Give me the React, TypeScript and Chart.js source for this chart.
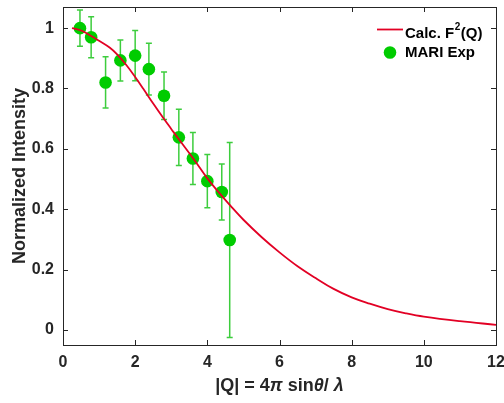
import React, { useEffect, useRef } from "react";
import { Chart, registerables } from "chart.js";

Chart.register(...registerables);

// Calculated magnetic form factor squared
const calcQ = [0.25, 0.5, 0.78, 1.0, 1.3, 1.5, 1.76, 2.0, 2.22, 2.5, 2.78, 3.0, 3.19, 3.61, 4.0, 4.3, 4.65, 5.0, 5.5, 6.0, 6.5, 7.0, 7.5, 8.0, 8.5, 9.0, 9.5, 10.0, 11.0, 12.0];
const calcF2 = [1.0, 0.992, 0.974, 0.958, 0.935, 0.913, 0.877, 0.838, 0.8, 0.75, 0.702, 0.666, 0.635, 0.568, 0.502, 0.458, 0.41, 0.365, 0.308, 0.257, 0.211, 0.172, 0.136, 0.108, 0.087, 0.069, 0.055, 0.044, 0.029, 0.017];

// MARI experimental points
const expQ = [0.47, 0.78, 1.18, 1.59, 2.0, 2.38, 2.8, 3.21, 3.6, 4.0, 4.4, 4.62];
const expI = [1.0, 0.97, 0.82, 0.893, 0.909, 0.864, 0.776, 0.638, 0.568, 0.493, 0.457, 0.298];
const expErr = [0.06, 0.068, 0.085, 0.068, 0.083, 0.086, 0.079, 0.093, 0.086, 0.088, 0.093, 0.323];

const xTicks = [0, 2, 4, 6, 8, 10, 12];
const yTicks = [0, 0.2, 0.4, 0.6, 0.8, 1];
const xRange = [0, 12];
const yRange = [-0.05, 1.07];

const legendLabels = ["Calc. F", "2", "(Q)", "MARI Exp"];
const yTitle = "Normalized Intensity";

const RED = "rgb(226,0,36)";
const GREEN = "rgb(0,204,0)";
const ERR_GREEN = "rgba(40,200,40,0.9)";
const AXIS = "#262626";
const FONT = "'Liberation Sans', Arial, sans-serif";

const customPlugin = {
  id: "custom",
  beforeDatasetsDraw(chart: any) {
    const ctx = chart.ctx;
    const xs = chart.scales.x;
    const ys = chart.scales.y;
    ctx.save();
    ctx.strokeStyle = ERR_GREEN;
    ctx.lineWidth = 1.5;
    for (let i = 0; i < expQ.length; i++) {
      const px = xs.getPixelForValue(expQ[i]);
      const pt = ys.getPixelForValue(expI[i] + expErr[i]);
      const pb = ys.getPixelForValue(expI[i] - expErr[i]);
      ctx.beginPath();
      ctx.moveTo(px, pt);
      ctx.lineTo(px, pb);
      ctx.moveTo(px - 3, pt);
      ctx.lineTo(px + 3, pt);
      ctx.moveTo(px - 3, pb);
      ctx.lineTo(px + 3, pb);
      ctx.stroke();
    }
    ctx.restore();
  },
  afterDraw(chart: any) {
    const ctx = chart.ctx;
    const xs = chart.scales.x;
    const ys = chart.scales.y;
    const a = chart.chartArea;
    ctx.save();
    // box
    ctx.strokeStyle = AXIS;
    ctx.lineWidth = 1;
    ctx.strokeRect(Math.round(a.left) + 0.5, Math.round(a.top) + 0.5, Math.round(a.right - a.left), Math.round(a.bottom - a.top));
    // inward ticks
    const tl = 5;
    ctx.beginPath();
    xTicks.forEach((v) => {
      const px = Math.round(xs.getPixelForValue(v)) + 0.5;
      ctx.moveTo(px, a.bottom);
      ctx.lineTo(px, a.bottom - tl);
      ctx.moveTo(px, a.top);
      ctx.lineTo(px, a.top + tl);
    });
    yTicks.forEach((v) => {
      const py = Math.round(ys.getPixelForValue(v)) + 0.5;
      ctx.moveTo(a.left, py);
      ctx.lineTo(a.left + tl, py);
      ctx.moveTo(a.right, py);
      ctx.lineTo(a.right - tl, py);
    });
    ctx.stroke();

    // legend
    ctx.fillStyle = "#000";
    ctx.textBaseline = "middle";
    ctx.textAlign = "left";
    ctx.strokeStyle = RED;
    ctx.lineWidth = 1.8;
    ctx.beginPath();
    ctx.moveTo(377, 29.5);
    ctx.lineTo(403, 29.5);
    ctx.stroke();
    ctx.font = `bold 15px ${FONT}`;
    let x = 405;
    ctx.fillText(legendLabels[0], x, 34);
    x += ctx.measureText(legendLabels[0]).width;
    ctx.font = `bold 10px ${FONT}`;
    ctx.fillText(legendLabels[1], x + 0.5, 27);
    x += ctx.measureText(legendLabels[1]).width + 1;
    ctx.font = `bold 15px ${FONT}`;
    ctx.fillText(legendLabels[2], x, 34);
    ctx.fillStyle = GREEN;
    ctx.beginPath();
    ctx.arc(390, 52.5, 6.3, 0, Math.PI * 2);
    ctx.fill();
    ctx.fillStyle = "#000";
    ctx.fillText(legendLabels[3], 405, 53);

    // y title
    ctx.fillStyle = AXIS;
    ctx.save();
    ctx.translate(20, (a.top + a.bottom) / 2);
    ctx.rotate(-Math.PI / 2);
    ctx.textAlign = "center";
    ctx.font = `bold 18px ${FONT}`;
    ctx.fillText(yTitle, 0, 0);
    ctx.restore();

    // x title with mixed styles
    const bold = `bold 18px ${FONT}`;
    const ital = `italic bold 18px ${FONT}`;
    const segs: [string, string][] = [
      ["|Q| = 4", bold],
      ["\u03C0", ital],
      [" sin", bold],
      ["\u03B8", ital],
      ["/", bold],
      [" \u03BB", ital],
    ];
    let total = 0;
    segs.forEach(([t, f]) => {
      ctx.font = f;
      total += ctx.measureText(t).width;
    });
    let cx = (a.left + a.right) / 2 - total / 2;
    ctx.textAlign = "left";
    segs.forEach(([t, f]) => {
      ctx.font = f;
      ctx.fillText(t, cx, 386);
      cx += ctx.measureText(t).width;
    });
    ctx.restore();
  },
};

export default function App() {
  const ref = useRef<HTMLCanvasElement | null>(null);
  useEffect(() => {
    document.body.style.margin = "0";
    if (!ref.current) return;
    const chart = new Chart(ref.current, {
      type: "scatter",
      data: {
        datasets: [
          {
            label: "Calc",
            data: calcQ.map((q, i) => ({ x: q, y: calcF2[i] })),
            showLine: true,
            borderColor: RED,
            borderWidth: 1.8,
            pointRadius: 0,
            tension: 0.4,
            fill: false,
          },
          {
            label: "MARI Exp",
            data: expQ.map((q, i) => ({ x: q, y: expI[i] })),
            backgroundColor: GREEN,
            borderColor: GREEN,
            pointRadius: 6.3,
            pointBorderWidth: 0,
            showLine: false,
          },
        ],
      } as any,
      options: {
        responsive: false,
        animation: false,
        devicePixelRatio: 1,
        clip: false,
        layout: { autoPadding: false, padding: { top: 7, right: 8, left: 0, bottom: 0 } },
        plugins: { legend: { display: false }, tooltip: { enabled: false } },
        scales: {
          x: {
            type: "linear",
            min: xRange[0],
            max: xRange[1],
            afterBuildTicks: (s: any) => {
              s.ticks = xTicks.map((v) => ({ value: v }));
            },
            afterFit: (s: any) => {
              s.height = 58;
              s.paddingLeft = 0;
              s.paddingRight = 0;
              s.paddingTop = 0;
              s.paddingBottom = 0;
            },
            grid: { display: false, drawTicks: false },
            border: { display: false },
            ticks: {
              padding: 8,
              color: AXIS,
              font: { family: FONT, size: 16, weight: "bold" },
              maxRotation: 0,
              callback: (v: any) => String(v),
            },
          },
          y: {
            type: "linear",
            min: yRange[0],
            max: yRange[1],
            afterBuildTicks: (s: any) => {
              s.ticks = yTicks.map((v) => ({ value: v }));
            },
            afterFit: (s: any) => {
              s.width = 63;
              s.paddingLeft = 0;
              s.paddingRight = 0;
              s.paddingTop = 0;
              s.paddingBottom = 0;
            },
            grid: { display: false, drawTicks: false },
            border: { display: false },
            ticks: {
              padding: 9,
              color: AXIS,
              font: { family: FONT, size: 16, weight: "bold" },
              callback: (v: any) => String(Math.round(v * 10) / 10),
            },
          },
        },
      } as any,
      plugins: [customPlugin],
    });
    return () => chart.destroy();
  }, []);
  return (
    <div style={{ width: 504, height: 403 }}>
      <canvas ref={ref} width={504} height={403} style={{ display: "block" }} />
    </div>
  );
}
